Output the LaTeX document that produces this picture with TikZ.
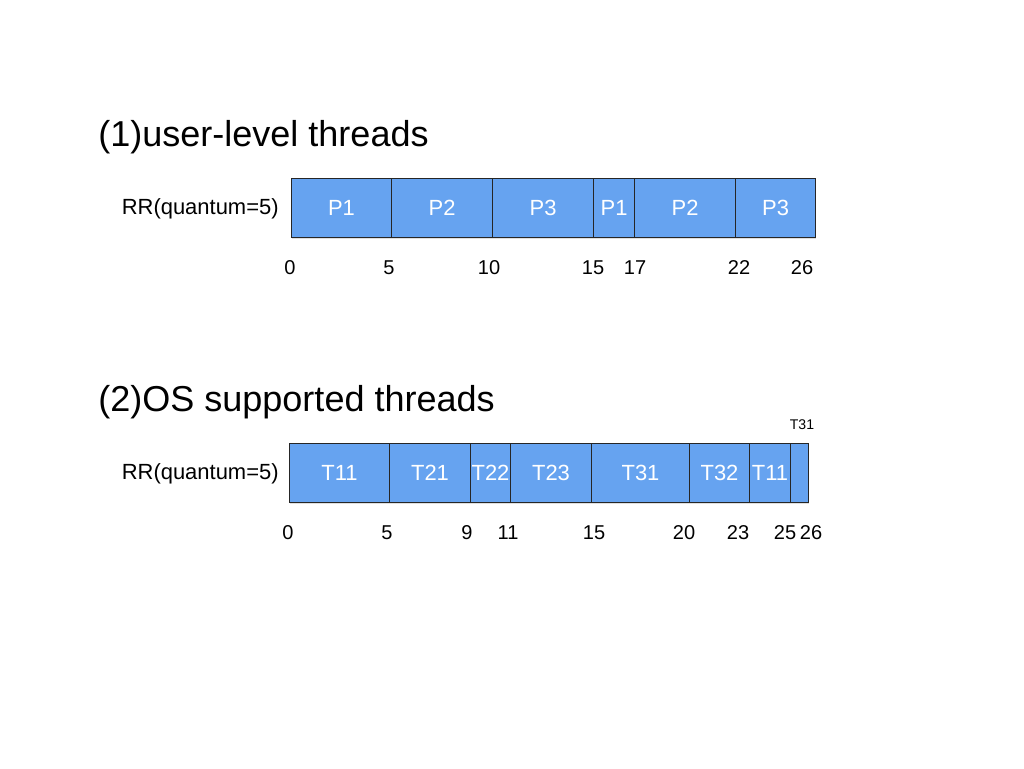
\documentclass[tikz,border=0pt]{standalone}
\usepackage{fontspec}
\setmainfont{Liberation Sans}
\usetikzlibrary{positioning,shadows}
\definecolor{slotblue}{RGB}{102,163,240}
\tikzset{
  title/.style={anchor=west,inner sep=0pt,font=\fontsize{20.5}{24}\selectfont},
  rrlabel/.style={anchor=east,inner sep=0pt},
  slot/.style={draw=black!85,line width=0.6pt,fill=slotblue,text=white,anchor=west,
    inner sep=0pt,minimum height=1.17cm,
    drop shadow={opacity=0.25,shadow xshift=0.4pt,shadow yshift=-0.8pt}},
  tick/.style={inner sep=0pt,font=\fontsize{11.4}{14}\selectfont}
}
\begin{document}
\begin{tikzpicture}[x=0.02cm,y=-0.02cm,font=\fontsize{12.5}{15}\selectfont]
\useasboundingbox (0,0) rectangle (1024,768);
% (1) user-level threads
\node[title] (title1) at (98,137) {(1)user-level threads};
\node[rrlabel] (rr1) at (279,209) {RR(quantum=5)};
\foreach \a/\b/\l [count=\i] in {291/391/P1,391/492/P2,492/593/P3,593/634/P1,634/735/P2,735/815/P3}
  \node[slot,minimum width={(\b-\a)*0.02cm}] (p\i) at (\a,208) {\l};
\foreach \x/\l in {290/0,389/5,489/10,593/15,635/17,739/22,802/26}
  \node[tick] (a\l) at (\x,268) {\l};
% (2) OS supported threads
\node[title] (title2) at (98,402) {(2)OS supported threads};
\node[rrlabel] (rr2) at (279,474) {RR(quantum=5)};
\foreach \a/\b/\l [count=\i] in {289/389/T11,389/470/T21,470/510/T22,510/591/T23,591/689/T31,689/749/T32,749/790/T11,790/808/{}}
  \node[slot,minimum width={(\b-\a)*0.02cm}] (s\i) at (\a,473) {\l};
\node[font=\fontsize{8}{9}\selectfont,inner sep=0pt] (t31) at (802,425) {T31};
\foreach \x/\l in {288/0,387/5,467/9,508/11,594/15,684/20,738/23,785/25,811/26}
  \node[tick] (b\l) at (\x,533) {\l};
\end{tikzpicture}
\end{document}
